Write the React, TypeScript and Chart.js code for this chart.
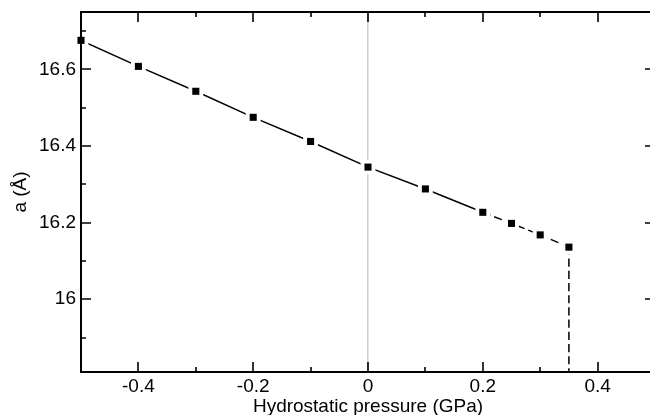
import React, { useEffect, useRef } from "react";
import { Chart, registerables } from "chart.js";

Chart.register(...registerables);

// ---- data ----
const pressure = [-0.5, -0.4, -0.3, -0.2, -0.1, 0, 0.1, 0.2, 0.25, 0.3, 0.35];
const latticeA = [16.676, 16.608, 16.543, 16.475, 16.412, 16.345, 16.288, 16.227, 16.198, 16.168, 16.136];
const dashedFrom = 0.2;
const xMajorTicks = [-0.4, -0.2, 0, 0.2, 0.4];
const xMinorTicks = [-0.3, -0.1, 0.1, 0.3];
const yMajorTicks = [16, 16.2, 16.4, 16.6];
const yMinorTicks = [15.9, 16.1, 16.3, 16.5, 16.7];
const xRange = [-0.5, 0.5];
const yRange = [15.81, 16.75];
const xTitle = "Hydrostatic pressure (GPa)";
const yTitle = "a (Å)";

const FONT = "'Liberation Sans', Arial, Helvetica, sans-serif";
const DASH = [8.2, 4];

const framePlugin = {
  id: "frameTicks",
  afterDraw(chart: any) {
    const { ctx, chartArea: a, scales } = chart;
    const xs = scales.x;
    const ys = scales.y;
    ctx.save();
    ctx.strokeStyle = "#000";
    ctx.lineWidth = 2;
    ctx.strokeRect(a.left, a.top, a.right - a.left, a.bottom - a.top);
    ctx.lineWidth = 1.6;
    ctx.beginPath();
    const xt = (v: number, len: number) => {
      const p = Math.round(xs.getPixelForValue(v));
      ctx.moveTo(p, a.bottom);
      ctx.lineTo(p, a.bottom - len);
      ctx.moveTo(p, a.top);
      ctx.lineTo(p, a.top + len);
    };
    const yt = (v: number, len: number) => {
      const p = Math.round(ys.getPixelForValue(v));
      ctx.moveTo(a.left, p);
      ctx.lineTo(a.left + len, p);
      ctx.moveTo(a.right, p);
      ctx.lineTo(a.right - len, p);
    };
    xMajorTicks.forEach((v) => xt(v, 10));
    xMinorTicks.forEach((v) => xt(v, 5));
    yMajorTicks.forEach((v) => yt(v, 10));
    yMinorTicks.forEach((v) => yt(v, 5));
    ctx.stroke();
    ctx.restore();
  },
};

const zeroPad = (s: any) => {
  s.paddingTop = 0;
  s.paddingBottom = 0;
  s.paddingLeft = 0;
  s.paddingRight = 0;
};

export default function App() {
  const ref = useRef<HTMLCanvasElement | null>(null);

  useEffect(() => {
    document.body.style.margin = "0";
    document.body.style.overflow = "hidden";
    document.documentElement.style.overflow = "hidden";
    const canvas = ref.current;
    if (!canvas) return;

    const pts = pressure.map((x, i) => ({ x, y: latticeA[i] }));
    const last = pts[pts.length - 1];
    const drop = [
      { x: last.x, y: last.y },
      { x: last.x, y: yRange[0] },
    ];

    const chart = new Chart(canvas, {
      type: "line",
      data: {
        datasets: [
          {
            data: pts,
            showLine: false,
            pointStyle: "rect",
            pointRadius: 5,
            pointBorderWidth: 0,
            pointBackgroundColor: "#000",
            pointBorderColor: "#000",
            clip: false as any,
          },
          {
            data: pts,
            borderColor: "#000",
            borderWidth: 1.5,
            pointStyle: "rect",
            pointRadius: 10.5,
            pointBorderWidth: 0,
            pointBackgroundColor: "#fff",
            pointBorderColor: "#fff",
            tension: 0,
            segment: {
              borderDash: (c: any) => (c.p0.parsed.x >= dashedFrom - 1e-9 ? DASH : undefined),
            },
          },
          {
            data: drop,
            borderColor: "#000",
            borderWidth: 1.5,
            borderDash: DASH,
            borderDashOffset: 0.8,
            pointRadius: 0,
          },
        ],
      },
      options: {
        animation: false,
        responsive: false,
        events: [],
        layout: { padding: { left: 0, top: 12, right: 15, bottom: 0 } },
        plugins: { legend: { display: false }, tooltip: { enabled: false } },
        scales: {
          x: {
            type: "linear",
            min: xRange[0],
            max: xRange[1],
            afterBuildTicks: (s: any) => {
              s.ticks = xMajorTicks.map((v) => ({ value: v }));
            },
            afterFit: (s: any) => {
              s.height = 43;
              zeroPad(s);
            },
            ticks: {
              color: "#000",
              padding: 3,
              font: { family: FONT, size: 19 },
              callback: (v: any) => String(v),
              maxRotation: 0,
              autoSkip: false,
            },
            grid: {
              drawTicks: false,
              lineWidth: 1.5,
              color: (c: any) => (c.tick && c.tick.value === 0 ? "#cccccc" : "rgba(0,0,0,0)"),
            },
            border: { display: false },
            title: {
              display: true,
              text: xTitle,
              color: "#000",
              font: { family: FONT, size: 19, lineHeight: 0.9 },
              padding: 0,
            },
          },
          y: {
            type: "linear",
            min: yRange[0],
            max: yRange[1],
            afterBuildTicks: (s: any) => {
              s.ticks = yMajorTicks.map((v) => ({ value: v }));
            },
            afterFit: (s: any) => {
              s.width = 81;
              zeroPad(s);
            },
            ticks: {
              color: "#000",
              padding: 5,
              font: { family: FONT, size: 19 },
              callback: (v: any) => String(v),
              autoSkip: false,
            },
            grid: { display: false, drawTicks: false },
            border: { display: false },
            title: {
              display: true,
              text: yTitle,
              color: "#000",
              font: { family: FONT, size: 19 },
              padding: { top: 9, bottom: 0 },
            },
          },
        },
      } as any,
      plugins: [framePlugin],
    });

    return () => chart.destroy();
  }, []);

  return (
    <div style={{ width: 670, height: 415, overflow: "hidden" }}>
      <canvas ref={ref} width={670} height={415} style={{ display: "block" }} />
    </div>
  );
}
